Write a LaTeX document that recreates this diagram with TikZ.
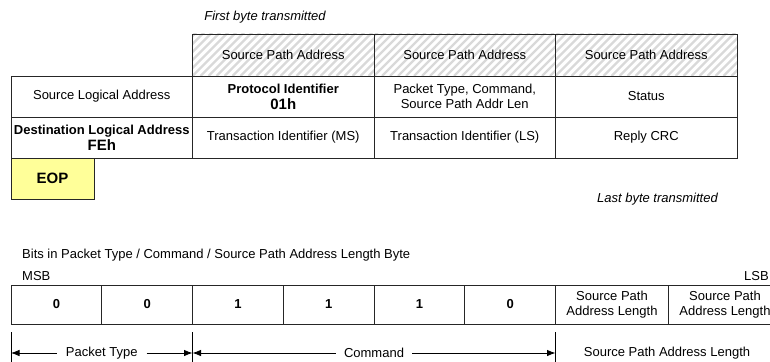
\documentclass[tikz,border=0pt]{standalone}
\usepackage{fontspec}
\setmainfont{Liberation Sans}
\usetikzlibrary{arrows.meta}
\definecolor{eopyellow}{RGB}{255,255,153}
\begin{document}
\begin{tikzpicture}[x=1pt,y=-1pt,
  every node/.style={font=\fontsize{13}{15}\selectfont, inner sep=0pt, align=center},
  cell/.style={draw=black!85, line width=0.8pt, minimum width=#1, minimum height=41pt},
  cell/.default=181.5pt,
  hatch/.style={minimum height=42pt, path picture={\foreach \i in {-48,-40,...,184}{\draw[black!15,line width=2.2pt] ([xshift=\i pt]path picture bounding box.south west) -- ++(50pt,50pt);}}},
  big/.style={font=\fontsize{15}{17}\selectfont\bfseries},
  note/.style={font=\fontsize{13}{15}\selectfont\itshape},
  arr/.style={draw=black, line width=0.8pt, -{Latex[length=8.5pt,width=6.5pt]}},
  tick/.style={draw=black, line width=0.8pt}
]
\clip (0,0) rectangle (770,361);
% top table
\node[note] (first) at (265,17) {First byte transmitted};
\node[cell, hatch] (h1) at (283.25,55) {Source Path Address};
\node[cell, hatch] (h2) at (464.75,55) {Source Path Address};
\node[cell, hatch] (h3) at (646.25,55) {Source Path Address};
\node[cell] (r1c1) at (101.75,96.5) {Source Logical Address};
\node[cell] (r1c2) at (283.25,96.5) {\textbf{Protocol Identifier}\\[1pt]{\fontsize{15}{17}\selectfont\bfseries 01h}};
\node[cell] (r1c3) at (464.75,96.5) {Packet Type, Command,\\Source Path Addr Len};
\node[cell] (r1c4) at (646.25,96.5) {Status};
\node[cell] (r2c1) at (101.75,137.5) {\textbf{Destination Logical Address}\\[1pt]{\fontsize{15}{17}\selectfont\bfseries FEh}};
\node[cell] (r2c2) at (283.25,137.5) {Transaction Identifier (MS)};
\node[cell] (r2c3) at (464.75,137.5) {Transaction Identifier (LS)};
\node[cell] (r2c4) at (646.25,137.5) {Reply CRC};
\node[cell=83pt, fill=eopyellow, big] (eop) at (52.5,178.5) {EOP};
\node[note, anchor=east] (last) at (718,199) {Last byte transmitted};
% bits
\node[anchor=west] (bits) at (22,255) {Bits in Packet Type / Command / Source Path Address Length Byte};
\node[anchor=west] (msb) at (22,276) {MSB};
\node[anchor=east] (lsb) at (769,276) {LSB};
\foreach \n/\x/\v in {b0/56.375/0, b1/147.125/0, b2/237.875/1, b3/328.625/1, b4/419.375/1, b5/510.125/0}{
  \node[cell=90.75pt, minimum height=39pt, font=\fontsize{13}{15}\selectfont\bfseries] (\n) at (\x,304.5) {\v};
}
\node[cell=113pt, minimum height=39pt] (b6) at (612,304.5) {Source Path\\Address Length};
\node[cell=113pt, minimum height=39pt] (b7) at (725,304.5) {Source Path\\Address Length};
% field arrows
\coordinate (t1top) at (11,332);
\coordinate (t1) at (11,353);
\coordinate (t1bot) at (11,362);
\coordinate (t2top) at (192.5,332);
\coordinate (t2) at (192.5,353);
\coordinate (t2bot) at (192.5,362);
\coordinate (t3top) at (555.5,332);
\coordinate (t3) at (555.5,353);
\coordinate (t3bot) at (555.5,362);
\draw[tick] (t1top) -- (t1bot);
\draw[tick] (t2top) -- (t2bot);
\draw[tick] (t3top) -- (t3bot);
\node[inner xsep=9pt] (ptype) at (101.75,353) {Packet Type};
\node[inner xsep=8pt] (cmd) at (374,353) {Command};
\node (spal) at (667,353) {Source Path Address Length};
\draw[arr] (ptype.west) -- (t1);
\draw[arr] (ptype.east) -- (t2);
\draw[arr] (cmd.west) -- (t2);
\draw[arr] (cmd.east) -- (t3);
\end{tikzpicture}
\end{document}
